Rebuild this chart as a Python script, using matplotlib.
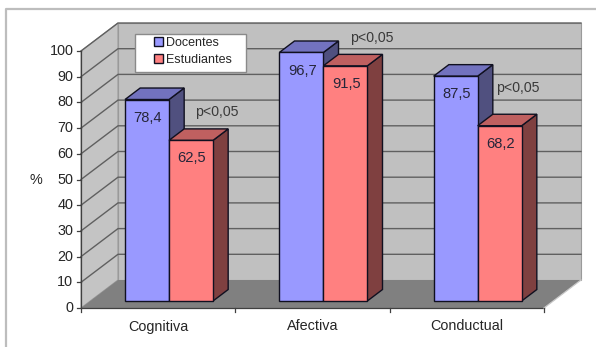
import matplotlib
matplotlib.use('Agg')
import matplotlib.pyplot as plt
from matplotlib.patches import Polygon, Patch, Rectangle

plt.rcParams['font.family'] = ['Liberation Sans', 'DejaVu Sans']

categories = ['Cognitiva', 'Afectiva', 'Conductual']
docentes = [78.4, 96.7, 87.5]
estudiantes = [62.5, 91.5, 68.2]
value_labels_d = ['78,4', '96,7', '87,5']
value_labels_e = ['62,5', '91,5', '68,2']
p_labels = ['p<0,05', 'p<0,05', 'p<0,05']
p_x = [0.88, 1.885, 2.83]
p_y = [76.3, 105.2, 85.6]
yticks = list(range(0, 101, 10))

W, H = 596, 347
X0, Y0 = 81, 308      # pixel position of the chart origin
UX, UY = 154.33, 2.57  # pixels per category / per percent
DX, DY = 37, 28        # depth of the box in pixels

fig = plt.figure(figsize=(W / 100, H / 100), dpi=100, facecolor='white')
ax = fig.add_axes([0, 0, 1, 1])
ax.set_xlim(-X0 / UX, (W - X0) / UX)
ax.set_ylim(-(H - Y0) / UY, Y0 / UY)
ax.axis('off')


def proj(x, v, d):
    # oblique projection: d=0 front plane, d=1 back wall
    return (x + d * DX / UX, v + d * DY / UY)


def poly(pts, fc, ec='none', lw=0.0, z=1):
    ax.add_patch(Polygon(pts, closed=True, facecolor=fc, edgecolor=ec,
                         linewidth=lw, zorder=z, joinstyle='miter'))


n = len(categories)

# outer frame
ax.plot([-(X0 - 6) / UX, -(X0 - 6) / UX, (W - X0) / UX],
        [-(H - Y0) / UY, (Y0 - 9.5) / UY, (Y0 - 9.5) / UY],
        color='#BDBDBD', lw=1.6, zorder=1, solid_capstyle='butt')

# walls and floor
poly([proj(0, 0, 1), proj(n, 0, 1), proj(n, 100, 1), proj(0, 100, 1)], '#C0C0C0', '#9A9A9A', 0.8)
poly([proj(0, 0, 0), proj(0, 0, 1), proj(0, 100, 1), proj(0, 100, 0)], '#C4C4C4', '#9A9A9A', 0.8)
poly([proj(0, 0, 0), proj(n, 0, 0), proj(n, 0, 1), proj(0, 0, 1)], '#808080')

# gridlines
for t in yticks[1:]:
    xs, ys = zip(proj(0, t, 0), proj(0, t, 1), proj(n, t, 1))
    ax.plot(xs, ys, color='#606060', lw=1.0, zorder=2)

# axes lines and ticks
ax.plot([0, 0], [0, 100], color='#404040', lw=0.9, zorder=2)
ax.plot([0, n], [0, 0], color='#404040', lw=0.9, zorder=2)
ax.plot([n, n + DX / UX], [0, DY / UY], color='#C8C8C8', lw=0.9, zorder=2)
for t in yticks:
    ax.plot([-4 / UX, 0], [t, t], color='#404040', lw=0.9, zorder=2)
    ax.annotate(str(t), (0, t), xytext=(-5.5, 0), textcoords='offset points',
                ha='right', va='center', fontsize=10.4, color='#262626')
for i in range(n + 1):
    ax.plot([i, i], [0, -4 / UY], color='#404040', lw=0.9, zorder=2)
for i, c in enumerate(categories):
    ax.text(i + 0.5, -18.5 / UY, c, ha='center', va='center', fontsize=10.4, color='#262626')
ax.text(-45 / UX, 50, '%', ha='center', va='center', fontsize=10.4, color='#262626')

# bars
BAR_W = 44 / UX
BAR_START = 34.75 / UX
D0, D1 = 0.25, 0.66
series = [
    (docentes, value_labels_d, 0, '#9999FF', '#7272BF', '#50507F'),
    (estudiantes, value_labels_e, 1, '#FF8080', '#BF6060', '#7F4040'),
]
for vals, labels, k, front, top, side in series:
    for i, v in enumerate(vals):
        x0 = i + BAR_START + k * BAR_W
        x1 = x0 + BAR_W
        z = 3 + k
        poly([proj(x1, 0, D0), proj(x1, 0, D1), proj(x1, v, D1), proj(x1, v, D0)], side, '#101020', 1.0, z)
        poly([proj(x0, v, D0), proj(x1, v, D0), proj(x1, v, D1), proj(x0, v, D1)], top, '#101020', 1.0, z)
        poly([proj(x0, 0, D0), proj(x1, 0, D0), proj(x1, v, D0), proj(x0, v, D0)], front, '#101020', 1.0, z)
        px, py = proj(x0 + BAR_W / 2, v, D0)
        ax.annotate(labels[i], (px, py), xytext=(0.6, -13), textcoords='offset points',
                    ha='center', va='center', fontsize=10.6, color='#26263A', zorder=6)

# significance labels
for x, y, s in zip(p_x, p_y, p_labels):
    ax.text(x, y, s, ha='center', va='center', fontsize=10.2, color='#3A3A3A', zorder=6)

# legend: white box drawn apart so the keys can sit inset from its left edge
fig.add_artist(Rectangle((135 / W, 1 - 72 / H), 111 / W, 38 / H, transform=fig.transFigure,
                         facecolor='white', edgecolor='#8A8A8A', linewidth=1.0, zorder=7))
handles = [Patch(facecolor='#9999FF', edgecolor='#101020', linewidth=1.0),
           Patch(facecolor='#FF8080', edgecolor='#101020', linewidth=1.0)]
leg = fig.legend(handles, ['Docentes', 'Estudiantes'], loc='upper left',
                 bbox_to_anchor=(154 / W, 1 - 36.5 / H), bbox_transform=fig.transFigure,
                 borderaxespad=0, borderpad=0, fontsize=9, frameon=False,
                 handlelength=0.75, handleheight=0.75, handletextpad=0.2,
                 labelspacing=0.41, labelcolor='#262626')
leg.set_zorder(8)

fig.savefig('out.png', dpi=100, facecolor='white')
plt.close(fig)
